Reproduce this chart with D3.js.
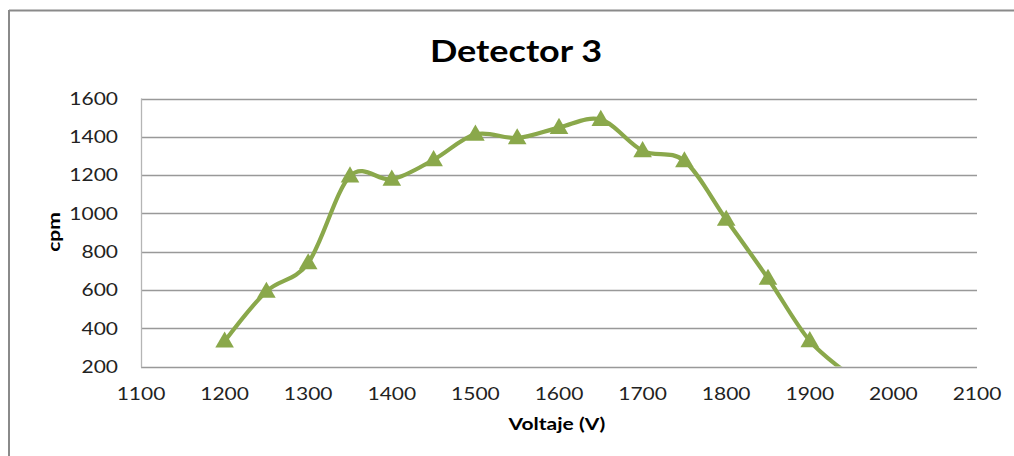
<!DOCTYPE html>
<html><head><meta charset="utf-8">
<script src="https://cdn.jsdelivr.net/npm/d3@7"></script>
<style>body{margin:0;background:#fff}svg{display:block}</style>
</head><body>
<svg id="c" width="1014" height="456"></svg>
<script>
const voltages = [1200,1250,1300,1350,1400,1450,1500,1550,1600,1650,1700,1750,1800,1850,1900,1950];
const cpm =      [332, 592, 741, 1195,1178,1280,1413,1394,1448,1490,1327,1274,968, 660, 334, 150];
const xTicks = [1100,1200,1300,1400,1500,1600,1700,1800,1900,2000,2100];
const yTicks = [200,400,600,800,1000,1200,1400,1600];
const title = "Detector 3", xLabel = "Voltaje (V)", yLabel = "cpm";

const svg = d3.select("#c");
const L=141, R=977, T=98.5, B=366.5;
const x = d3.scaleLinear().domain([1100,2100]).range([L,R]);
const y = d3.scaleLinear().domain([200,1600]).range([B,T]);
const font = "Lato, 'Open Sans', sans-serif";
const SX = 1.2; // horizontal stretch of the reference's text
const fmt = d3.format("d");

// outer frame
svg.append("line").attr("x1",9).attr("x2",9).attr("y1",10).attr("y2",456).attr("stroke","#8a8a8a").attr("stroke-width",2);
svg.append("line").attr("x1",9).attr("x2",1014).attr("y1",10.5).attr("y2",10.5).attr("stroke","#8a8a8a").attr("stroke-width",2);

// grid
svg.append("g").selectAll("line").data(yTicks).join("line")
  .attr("x1",L).attr("x2",R).attr("y1",d=>Math.round(y(d))+0.5).attr("y2",d=>Math.round(y(d))+0.5)
  .attr("stroke","#999").attr("stroke-width",1.3);
svg.append("line").attr("x1",L+0.5).attr("x2",L+0.5).attr("y1",T).attr("y2",B+1).attr("stroke","#b5b5b5").attr("stroke-width",1.3);

// tick labels (from scales)
svg.append("g").selectAll("text").data(yTicks).join("text")
  .attr("transform",d=>`translate(${L-23},${y(d)}) scale(${SX},1)`)
  .attr("text-anchor","end").attr("dy","0.36em")
  .attr("font-family",font).attr("font-size",17.5).attr("fill","#222").text(fmt);
svg.append("g").selectAll("text").data(xTicks).join("text")
  .attr("transform",d=>`translate(${x(d)},${B+33}) scale(${SX},1)`)
  .attr("text-anchor","middle")
  .attr("font-family",font).attr("font-size",17.5).attr("fill","#222").text(fmt);

// clip
svg.append("clipPath").attr("id","clip").append("rect").attr("x",L).attr("y",T-20).attr("width",R-L).attr("height",B-T+20);

const pts = voltages.map((v,i)=>[v,cpm[i]]);
const line = d3.line().x(d=>x(d[0])).y(d=>y(d[1])).curve(d3.curveCatmullRom.alpha(0));
svg.append("path").attr("clip-path","url(#clip)").attr("d",line(pts))
  .attr("fill","none").attr("stroke","#8aa84b").attr("stroke-width",4.2).attr("stroke-linejoin","round");

const tri = d3.symbol().type(d3.symbolTriangle).size(150);
svg.append("g").attr("clip-path","url(#clip)").selectAll("path").data(pts.filter(d=>d[1]>=200)).join("path")
  .attr("d",tri).attr("transform",d=>`translate(${x(d[0])},${y(d[1])+1})`)
  .attr("fill","#8aa84b");

// titles
svg.append("text").attr("transform",`translate(516,62) scale(${SX},1)`).attr("text-anchor","middle")
  .attr("font-family",font).attr("font-weight","bold").attr("font-size",30).attr("fill","#000").text(title);
svg.append("text").attr("transform",`translate(557,430) scale(${SX},1)`).attr("text-anchor","middle")
  .attr("font-family",font).attr("font-weight","bold").attr("font-size",17.5).attr("fill","#000").text(xLabel);
svg.append("text").attr("transform","translate(60,232) rotate(-90) scale(1.2,1)").attr("text-anchor","middle")
  .attr("font-family",font).attr("font-weight","bold").attr("font-size",17.5).attr("fill","#000").text(yLabel);
</script>
</body></html>
